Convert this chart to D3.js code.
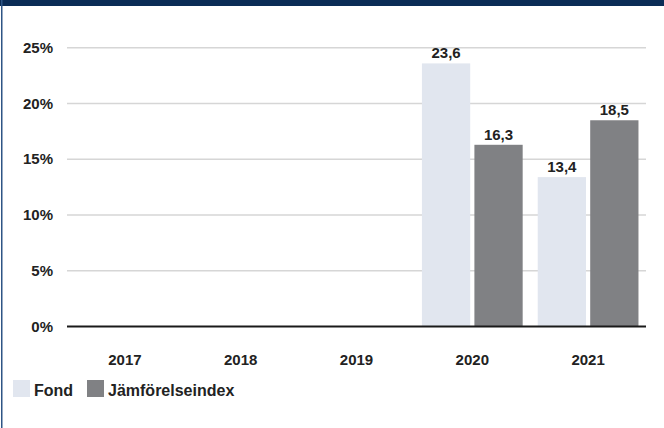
<!DOCTYPE html>
<html>
<head>
<meta charset="utf-8">
<script src="https://cdn.jsdelivr.net/npm/d3@7"></script>
<style>
  body { margin: 0; background: #fff; }
  svg text { font-family: "Liberation Sans", Arial, sans-serif; font-weight: bold; fill: #222; }
</style>
</head>
<body>
<div id="chart"></div>
<script>
// data
var years = ["2017", "2018", "2019", "2020", "2021"]
var seriesNames = ["Fond", "Jämförelseindex"]
var fondValues = [null, null, null, 23.6, 13.4]
var indexValues = [null, null, null, 16.3, 18.5]
var yTicks = [0, 5, 10, 15, 20, 25]

const svgWidth = 664
const svgHeight = 428
var colors = ["#e1e6ef", "#808184"]
var navy = "#0b2c56"

var svg = d3.select("#chart")
    .append("svg")
    .attr("width", svgWidth)
    .attr("height", svgHeight)

// header bar and left border
svg.append("rect").attr("x", 0).attr("y", 0).attr("width", svgWidth).attr("height", 6).style("fill", navy)
svg.append("rect").attr("x", 1).attr("y", 0).attr("width", 1.5).attr("height", svgHeight).style("fill", "#2e5585")

var x0 = d3.scaleBand()
    .domain(years)
    .range([67, 646])
    .paddingInner(0.13)
    .paddingOuter(0.065)

var x1 = d3.scaleBand()
    .domain(seriesNames)
    .range([0, x0.bandwidth()])
    .paddingInner(0.08)

var y = d3.scaleLinear()
    .domain([0, 25])
    .range([326.5, 47.8])

// gridlines
svg.selectAll(".grid")
    .data(yTicks.filter(d => d > 0))
    .enter()
    .append("line")
    .attr("x1", 67)
    .attr("x2", 646)
    .attr("y1", d => y(d))
    .attr("y2", d => y(d))
    .style("stroke", "#d6d6d6")
    .style("stroke-width", "1.5px")

// y labels
svg.selectAll(".ylab")
    .data(yTicks)
    .enter()
    .append("text")
    .attr("x", 53)
    .attr("y", d => y(d) + 5)
    .attr("text-anchor", "end")
    .style("font-size", "15px")
    .text(d => d + "%")

var rows = []
years.forEach(function (yr, i) {
    rows.push({year: yr, s: seriesNames[0], v: fondValues[i], c: colors[0]})
    rows.push({year: yr, s: seriesNames[1], v: indexValues[i], c: colors[1]})
})
rows = rows.filter(d => d.v !== null)

svg.selectAll(".bar")
    .data(rows)
    .enter()
    .append("rect")
    .attr("x", d => x0(d.year) + x1(d.s))
    .attr("y", d => y(d.v))
    .attr("width", x1.bandwidth())
    .attr("height", d => y(0) - y(d.v))
    .style("fill", d => d.c)

svg.selectAll(".val")
    .data(rows)
    .enter()
    .append("text")
    .attr("x", d => x0(d.year) + x1(d.s) + x1.bandwidth() / 2)
    .attr("y", d => y(d.v) - 5)
    .attr("text-anchor", "middle")
    .style("font-size", "15px")
    .text(d => d3.format(".1f")(d.v).replace(".", ","))

// zero axis
svg.append("line")
    .attr("x1", 67)
    .attr("x2", 646)
    .attr("y1", y(0))
    .attr("y2", y(0))
    .style("stroke", "#1a1a1a")
    .style("stroke-width", "2px")

// x labels
svg.selectAll(".xlab")
    .data(years)
    .enter()
    .append("text")
    .attr("x", d => x0(d) + x0.bandwidth() / 2)
    .attr("y", 365)
    .attr("text-anchor", "middle")
    .style("font-size", "15px")
    .text(d => d)

// legend
var legendX = [13, 87]
var lg = svg.selectAll(".leg")
    .data(seriesNames)
    .enter()
    .append("g")
    .attr("transform", (d, i) => "translate(" + legendX[i] + ",380)")
lg.append("rect")
    .attr("width", 17)
    .attr("height", 17)
    .style("fill", (d, i) => colors[i])
lg.append("text")
    .attr("x", 21)
    .attr("y", 16)
    .style("font-size", "16px")
    .text(d => d)
</script>
</body>
</html>
